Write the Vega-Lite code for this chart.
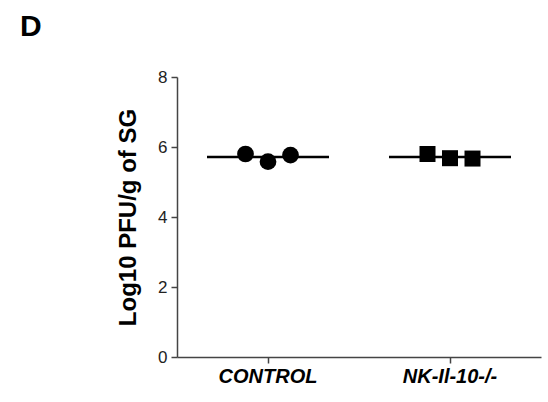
{
  "$schema": "https://vega.github.io/schema/vega-lite/v6.json",
  "autosize": "none",
  "width": 364,
  "height": 280,
  "padding": {"left": 177, "top": 77, "right": 7, "bottom": 45},
  "background": "white",
  "title": {
    "text": "D",
    "anchor": "start",
    "frame": "group",
    "font": "Liberation Sans",
    "fontSize": 30,
    "fontWeight": "bold",
    "color": "black",
    "dx": -157,
    "offset": 2,
    "baseline": "alphabetic"
  },
  "config": {
    "view": {"stroke": null},
    "font": "Liberation Sans"
  },
  "data": {
    "values": [
      {"group": "CONTROL", "rep": 1, "value": 5.8},
      {"group": "CONTROL", "rep": 2, "value": 5.58},
      {"group": "CONTROL", "rep": 3, "value": 5.77},
      {"group": "NK-Il-10-/-", "rep": 1, "value": 5.8},
      {"group": "NK-Il-10-/-", "rep": 2, "value": 5.68},
      {"group": "NK-Il-10-/-", "rep": 3, "value": 5.67}
    ]
  },
  "encoding": {
    "x": {
      "field": "group",
      "type": "nominal",
      "sort": null,
      "scale": {"paddingInner": 0, "paddingOuter": 0},
      "axis": {
        "title": null,
        "labelAngle": 0,
        "labelFont": "Liberation Sans",
        "labelFontSize": 20,
        "labelFontWeight": "bold",
        "labelFontStyle": "italic",
        "labelColor": "black",
        "labelPadding": 3,
        "tickSize": 6,
        "tickColor": "#444",
        "domainColor": "#444",
        "tickWidth": 1.5,
        "domainWidth": 1.5,
        "grid": false
      }
    },
    "y": {
      "field": "value",
      "type": "quantitative",
      "scale": {"domain": [0, 8], "nice": false},
      "axis": {
        "title": "Log10 PFU/g of SG",
        "titleFont": "Liberation Sans",
        "titleFontSize": 24,
        "titleFontWeight": "bold",
        "titleColor": "black",
        "titlePadding": 17,
        "values": [0, 2, 4, 6, 8],
        "labelFont": "Liberation Sans",
        "labelFontSize": 17,
        "labelColor": "#222",
        "labelPadding": 4,
        "tickSize": 6,
        "tickColor": "#444",
        "domainColor": "#444",
        "tickWidth": 1.5,
        "domainWidth": 1.5,
        "grid": false
      }
    }
  },
  "layer": [
    {
      "mark": {"type": "tick", "orient": "horizontal", "size": 122, "thickness": 2.5, "color": "black"},
      "encoding": {
        "y": {"aggregate": "mean", "field": "value", "type": "quantitative"}
      }
    },
    {
      "mark": {"type": "point", "filled": true, "opacity": 1, "color": "black"},
      "encoding": {
        "xOffset": {"field": "rep", "type": "nominal", "scale": {"type": "point", "padding": 0, "range": [68.5, 113.5]}},
        "shape": {"field": "group", "type": "nominal", "scale": {"range": ["circle", "square"]}, "legend": null},
        "size": {"field": "group", "type": "nominal", "scale": {"range": [280, 256]}, "legend": null}
      }
    }
  ]
}
